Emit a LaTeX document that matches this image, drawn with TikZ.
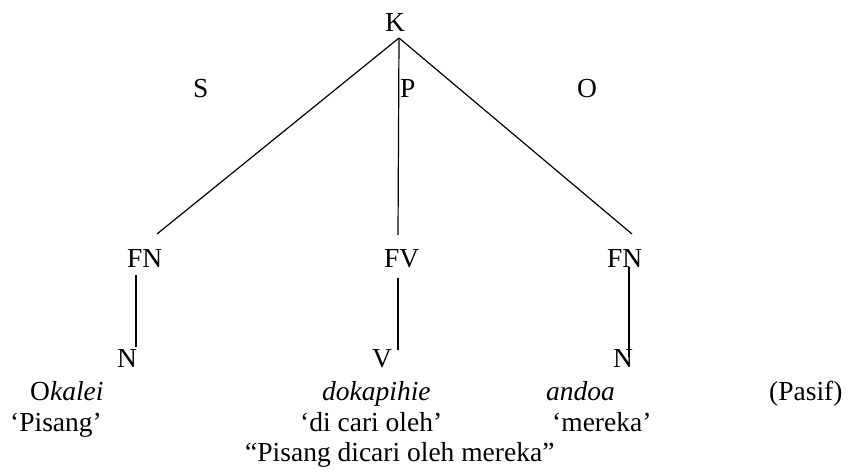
\documentclass[tikz,border=0pt]{standalone}
\usepackage{fontspec}
\setmainfont{Liberation Serif}
\usepackage{tikz}
\usetikzlibrary{positioning}
\newcommand{\treefont}{\fontsize{27.5}{30}\selectfont}

\begin{document}
\begin{tikzpicture}[x=1pt, y=-1pt,
  lbl/.style={inner sep=0pt, anchor=base west, font=\treefont},
  gloss/.style={lbl},
  branch/.style={draw, line width=1.2pt}]
\useasboundingbox (0,0) rectangle (848,474);
% categories
\node[lbl] (k) at (385,31) {K};
\node[lbl] (fs) at (193,97) {S};
\node[lbl] (fp) at (400,97) {P};
\node[lbl] (fo) at (577,97) {O};
\node[lbl] (fnS) at (127,267) {FN};
\node[lbl] (fv) at (384,267) {FV};
\node[lbl] (fnO) at (607,267) {FN};
\node[lbl] (nS) at (117,367) {N};
\node[lbl] (vP) at (372,367) {V};
\node[lbl] (nO) at (613,367) {N};
% words and glosses
\node[gloss] (wS) at (30,400) {O\textit{kalei}};
\node[gloss] (wP) at (322,400) {\textit{dokapihie}};
\node[gloss] (wO) at (546,400) {\textit{andoa}};
\node[gloss] (pasif) at (769,400) {(Pasif)};
\node[gloss] (gS) at (10,431) {‘Pisang’};
\node[gloss] (gP) at (300,431) {‘di cari oleh’};
\node[gloss] (gO) at (552,431) {‘mereka’};
\node[gloss] (trans) at (245,461) {“Pisang dicari oleh mereka”};
% branch ends
\coordinate (kfoot) at (399,38);
\coordinate (fnStop) at (157,234);
\coordinate (fvtop) at (398,235);
\coordinate (fnOtop) at (632,234);
\coordinate (fnSfoot) at (136,275);
\coordinate (nStop) at (136,347);
\coordinate (fvfoot) at (398,278);
\coordinate (vPtop) at (398,350);
\coordinate (fnOfoot) at (629,267);
\coordinate (nOtop) at (629,357);
\draw[branch] (kfoot) -- (fnStop);
\draw[branch] (kfoot) -- (fvtop);
\draw[branch] (kfoot) -- (fnOtop);
\draw[branch] (fnSfoot) -- (nStop);
\draw[branch] (fvfoot) -- (vPtop);
\draw[branch] (fnOfoot) -- (nOtop);
\end{tikzpicture}
\end{document}
